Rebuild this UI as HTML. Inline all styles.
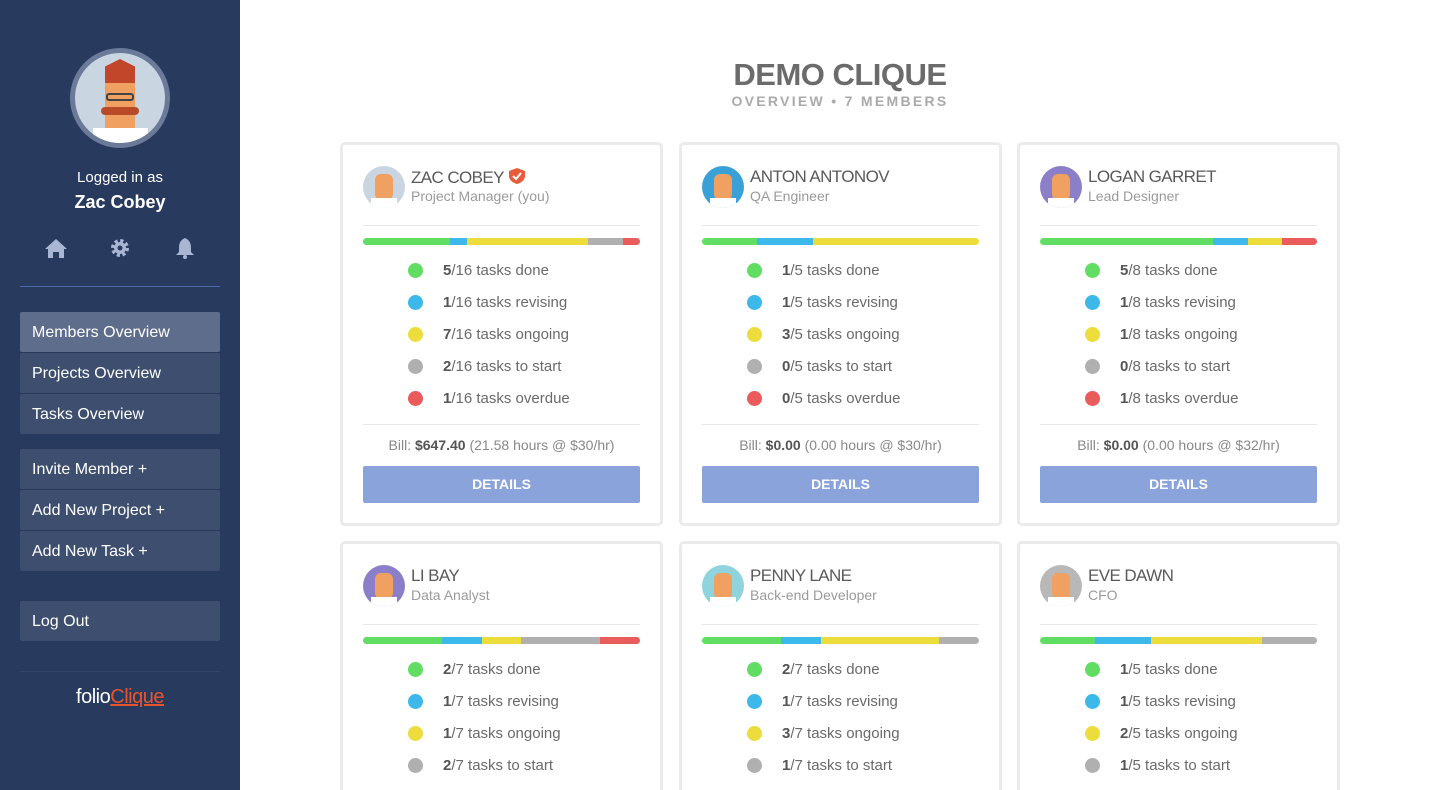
<!DOCTYPE html>
<html><head><meta charset="utf-8"><style>
*{box-sizing:border-box;margin:0;padding:0}
html{width:1440px;height:790px;overflow:hidden}
body{width:1440px;height:790px;overflow:hidden;background:#fff;font-family:"Liberation Sans",sans-serif;position:relative}
#side{position:absolute;left:0;top:0;width:240px;height:790px;background:#283a5e}
.nav{position:absolute;left:20px;width:200px;height:40px;background:#3e4e6e;color:#fff;font-size:16px;line-height:41px;padding-left:12px;border-radius:2px}
.nav.act{background:#5f6d8c}
#cards{position:absolute;left:0;top:0;width:1440px;height:790px;overflow:hidden}
.card{position:absolute;width:323px;height:384px;border:3px solid #ebebeb;border-radius:5px;background:#fff;overflow:hidden}
.card.r2{height:249px;border-bottom:none;border-radius:5px 5px 0 0}
.av{position:absolute;left:20px;top:21px;width:42px;height:42px;border-radius:50%;overflow:hidden}
.nm{position:absolute;left:68px;top:22px;font-size:17px;color:#5a5a5a;letter-spacing:-0.6px}
.rl{position:absolute;left:68px;top:43px;font-size:14px;color:#9a9a9a}
.hr{position:absolute;left:20px;width:277px;height:1px;background:#e8e8e8}
.bar{position:absolute;left:20px;top:93px;width:277px;height:7px;border-radius:4px;overflow:hidden;display:flex}
.it{position:absolute;left:65px;font-size:15px;color:#6a6a6a;height:20px;line-height:20px}
.it i{position:absolute;left:0;top:2px;width:15px;height:15px;border-radius:50%}
.it span{margin-left:35px}
.it b{color:#555}
.bill{position:absolute;left:0;width:317px;top:292px;text-align:center;font-size:14px;color:#888}
.bill b{color:#555}
.btn{position:absolute;left:20px;top:321px;width:277px;height:37px;background:#8aa3db;color:#fff;font-weight:bold;font-size:14px;text-align:center;line-height:37px;border-radius:2px}
</style></head><body>
<div id="side">
 <div style="position:absolute;left:70px;top:48px;width:100px;height:100px;border-radius:50%;border:5px solid #6b7a99;background:#c9d5e1;overflow:hidden">
  <div style="position:absolute;left:30px;top:6px;width:30px;height:30px;background:#c2472a;clip-path:polygon(50% 0,100% 25%,100% 100%,0 100%,0 25%)"></div>
  <div style="position:absolute;left:30px;top:30px;width:30px;height:45px;background:#f0a060"></div>
  <div style="position:absolute;left:31px;top:40px;width:28px;height:8px;border:2px solid #444;border-radius:3px"></div>
  <div style="position:absolute;left:26px;top:54px;width:38px;height:8px;background:#b84a28;border-radius:6px"></div>
  <div style="position:absolute;left:18px;top:75px;width:55px;height:20px;background:#fff"></div>
 </div>
 <div style="position:absolute;top:169px;width:240px;text-align:center;color:#fff;font-size:15px">Logged in as</div>
 <div style="position:absolute;top:192px;width:240px;text-align:center;color:#fff;font-size:18px;font-weight:bold">Zac Cobey</div>
 <div style="position:absolute;left:45px;top:238px;width:22px;height:20px">
  <svg width="22" height="20"><path d="M11 1 L22 11 H19 V20 H14 V14 H8 V20 H3 V11 H0 Z" fill="#a9b6d3"/></svg></div>
 <div style="position:absolute;left:110px;top:238px;width:20px;height:20px">
  <svg width="20" height="20"><circle cx="10" cy="10" r="7" fill="none" stroke="#a9b6d3" stroke-width="4" stroke-dasharray="3 2.5"/><circle cx="10" cy="10" r="6" fill="#a9b6d3"/><circle cx="10" cy="10" r="2.5" fill="#283a5e"/></svg></div>
 <div style="position:absolute;left:175px;top:237px;width:20px;height:22px">
  <svg width="20" height="22"><path d="M10 1 C5 3 4 7 4 11 V15 L1 18 H19 L16 15 V11 C16 7 15 3 10 1 Z" fill="#a9b6d3"/><circle cx="10" cy="20" r="2" fill="#a9b6d3"/></svg></div>
 <div style="position:absolute;left:20px;top:286px;width:200px;height:1px;background:#4b6aa8"></div>
 <div class="nav act" style="top:312px">Members Overview</div>
 <div class="nav" style="top:353px">Projects Overview</div>
 <div class="nav" style="top:394px">Tasks Overview</div>
 <div class="nav" style="top:449px">Invite Member +</div>
 <div class="nav" style="top:490px">Add New Project +</div>
 <div class="nav" style="top:531px">Add New Task +</div>
 <div class="nav" style="top:601px">Log Out</div>
 <div style="position:absolute;left:20px;top:671px;width:200px;height:1px;background:#34466b"></div>
 <div style="position:absolute;top:686px;width:240px;text-align:center;font-size:20px;color:#fff;letter-spacing:-0.5px">folio<span style="color:#e8542c;text-decoration:underline">Clique</span></div>
</div>
<div style="position:absolute;left:240px;width:1200px;top:57px;text-align:center;font-size:31px;font-weight:bold;color:#6b6b6b;letter-spacing:-0.5px">DEMO CLIQUE</div>
<div style="position:absolute;left:240px;width:1200px;top:93px;text-align:center;font-size:14px;font-weight:bold;color:#aaa;letter-spacing:2.3px">OVERVIEW • 7 MEMBERS</div>
<div id="cards"></div>
<script>
const names=["ZAC COBEY","ANTON ANTONOV","LOGAN GARRET","LI BAY","PENNY LANE","EVE DAWN"];
const roles=["Project Manager (you)","QA Engineer","Lead Designer","Data Analyst","Back-end Developer","CFO"];
const done=[5,1,5,2,2,1];
const revising=[1,1,1,1,1,1];
const ongoing=[7,3,1,1,3,2];
const toStart=[2,0,0,2,1,1];
const overdue=[1,0,1,1,0,0];
const totals=[16,5,8,7,7,5];
const bills=["$647.40","$0.00","$0.00","$0.00","$0.00","$0.00"];
const hours=["21.58","0.00","0.00","0.00","0.00","0.00"];
const rates=["$30","$30","$32","$30","$30","$30"];
const avColors=["#c9d5e1","#3aa0d8","#8a7fc8","#8a7fc8","#8fd3dd","#b8b8b8"];
const labels=["tasks done","tasks revising","tasks ongoing","tasks to start","tasks overdue"];
const colors=["#62dd64","#3db8ea","#ecdd3d","#b0b0b0","#ea5b5b"];
const colX=[340,679,1017],rowY=[142,541];
const root=document.getElementById('cards');
names.forEach((n,i)=>{
 const c=document.createElement('div');c.className='card'+(i>=3?' r2':'');
 
 
 c.style.left=colX[i%3]+'px';c.style.top=rowY[Math.floor(i/3)]+'px';
 const vals=[done[i],revising[i],ongoing[i],toStart[i],overdue[i]];
 let h=`<div class="av" style="background:${avColors[i]}"><div style="position:absolute;left:12px;top:8px;width:18px;height:26px;background:#f0a060;border-radius:6px"></div><div style="position:absolute;left:8px;top:32px;width:26px;height:12px;background:#fff"></div></div>`;
 h+=`<div class="nm">${n}${i==0?' <svg width="18" height="18" style="vertical-align:-2px"><path d="M9 1 L17 4 V9 C17 13 13 16 9 17 C5 16 1 13 1 9 V4 Z" fill="#ea5b3c"/><path d="M5 9 L8 12 L13 6" stroke="#fff" stroke-width="2" fill="none"/></svg>':''}</div><div class="rl">${roles[i]}</div><div class="hr" style="top:80px"></div>`;
 h+='<div class="bar">';
 vals.forEach((v,k)=>{h+=`<div style="width:${v/totals[i]*100}%;background:${colors[k]}"></div>`});
 h+='</div>';
 vals.forEach((v,k)=>{h+=`<div class="it" style="top:${116+k*32}px"><i style="background:${colors[k]}"></i><span><b>${v}</b>/${totals[i]} ${labels[k]}</span></div>`});
 h+=`<div class="hr" style="top:279px"></div><div class="bill">Bill: <b>${bills[i]}</b> (${hours[i]} hours @ ${rates[i]}/hr)</div><div class="btn">DETAILS</div>`;
 c.innerHTML=h;
 root.appendChild(c);
 c.querySelector('.bar');
 c.querySelector('.bar');
 const b=c.querySelector('.btn');
 
 
});
</script>
</body></html>
